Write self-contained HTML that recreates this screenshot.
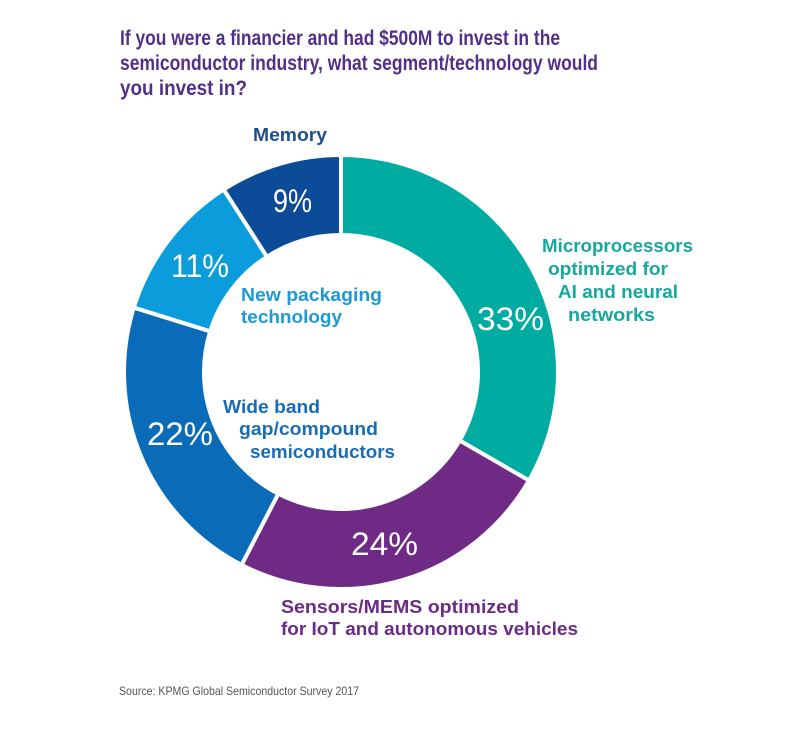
<!DOCTYPE html>
<html>
<head>
<meta charset="utf-8">
<style>
html,body{margin:0;padding:0;background:#fff;}
svg{display:block;}
text{font-family:"Liberation Sans",sans-serif;}
.t{font-weight:bold;fill:#51308a;font-size:21px;}
.lb{font-weight:bold;font-size:18px;}
.pc{fill:#fff;font-size:32px;}
</style>
</head>
<body>
<svg width="800" height="735" viewBox="0 0 800 735" xmlns="http://www.w3.org/2000/svg">
<rect width="800" height="735" fill="#fff"/>
<text class="t" x="120" y="45" textLength="440" lengthAdjust="spacingAndGlyphs">If you were a financier and had $500M to invest in the</text>
<text class="t" x="120" y="70" textLength="478" lengthAdjust="spacingAndGlyphs">semiconductor industry, what segment/technology would</text>
<text class="t" x="120" y="95" textLength="127" lengthAdjust="spacingAndGlyphs">you invest in?</text>

<g stroke="#fff" stroke-width="4" stroke-linejoin="miter">
<path d="M341,155 A217,217 0 0 1 528.93,480.5 L459.64,440.5 A137,137 0 0 0 341,235 Z" fill="#00aca1"/>
<path d="M528.93,480.5 A217,217 0 0 1 241.57,564.89 L278.23,493.78 A137,137 0 0 0 459.64,440.5 Z" fill="#6e2a84"/>
<path d="M241.57,564.89 A217,217 0 0 1 133.79,307.57 L210.18,331.32 A137,137 0 0 0 278.23,493.78 Z" fill="#0a6cb9"/>
<path d="M133.79,307.57 A217,217 0 0 1 223.69,189.46 L266.94,256.76 A137,137 0 0 0 210.18,331.32 Z" fill="#0b9cdb"/>
<path d="M223.69,189.46 A217,217 0 0 1 341,155 L341,235 A137,137 0 0 0 266.94,256.76 Z" fill="#0b4b97"/>
</g>

<text class="pc" x="273" y="212" textLength="39" lengthAdjust="spacingAndGlyphs">9%</text>
<text class="pc" x="171" y="277" textLength="58" lengthAdjust="spacingAndGlyphs">11%</text>
<text class="pc" x="477" y="330" textLength="67" lengthAdjust="spacingAndGlyphs">33%</text>
<text class="pc" x="147" y="445" textLength="66" lengthAdjust="spacingAndGlyphs">22%</text>
<text class="pc" x="351" y="555" textLength="67" lengthAdjust="spacingAndGlyphs">24%</text>

<text class="lb" fill="#1f4e8f" x="253" y="141" textLength="74" lengthAdjust="spacingAndGlyphs">Memory</text>

<g fill="#15a89e" class="lb">
<text class="lb" fill="#15a89e" x="542" y="252" textLength="151" lengthAdjust="spacingAndGlyphs">Microprocessors</text>
<text class="lb" fill="#15a89e" x="548" y="275" textLength="120" lengthAdjust="spacingAndGlyphs">optimized for</text>
<text class="lb" fill="#15a89e" x="558" y="298" textLength="120" lengthAdjust="spacingAndGlyphs">AI and neural</text>
<text class="lb" fill="#15a89e" x="568" y="321" textLength="87" lengthAdjust="spacingAndGlyphs">networks</text>
</g>

<text class="lb" fill="#1b9ad6" x="241" y="301" textLength="141" lengthAdjust="spacingAndGlyphs">New packaging</text>
<text class="lb" fill="#1b9ad6" x="241" y="323" textLength="101" lengthAdjust="spacingAndGlyphs">technology</text>

<text class="lb" fill="#1a6cb4" x="223" y="413" textLength="97" lengthAdjust="spacingAndGlyphs">Wide band</text>
<text class="lb" fill="#1a6cb4" x="239" y="435" textLength="139" lengthAdjust="spacingAndGlyphs">gap/compound</text>
<text class="lb" fill="#1a6cb4" x="250" y="458" textLength="145" lengthAdjust="spacingAndGlyphs">semiconductors</text>

<text class="lb" fill="#6b2b86" x="281" y="613" textLength="238" lengthAdjust="spacingAndGlyphs">Sensors/MEMS optimized</text>
<text class="lb" fill="#6b2b86" x="281" y="635" textLength="297" lengthAdjust="spacingAndGlyphs">for IoT and autonomous vehicles</text>

<text x="119" y="695" font-size="12" fill="#555" textLength="240" lengthAdjust="spacingAndGlyphs">Source: KPMG Global Semiconductor Survey 2017</text>
</svg>
</body>
</html>
